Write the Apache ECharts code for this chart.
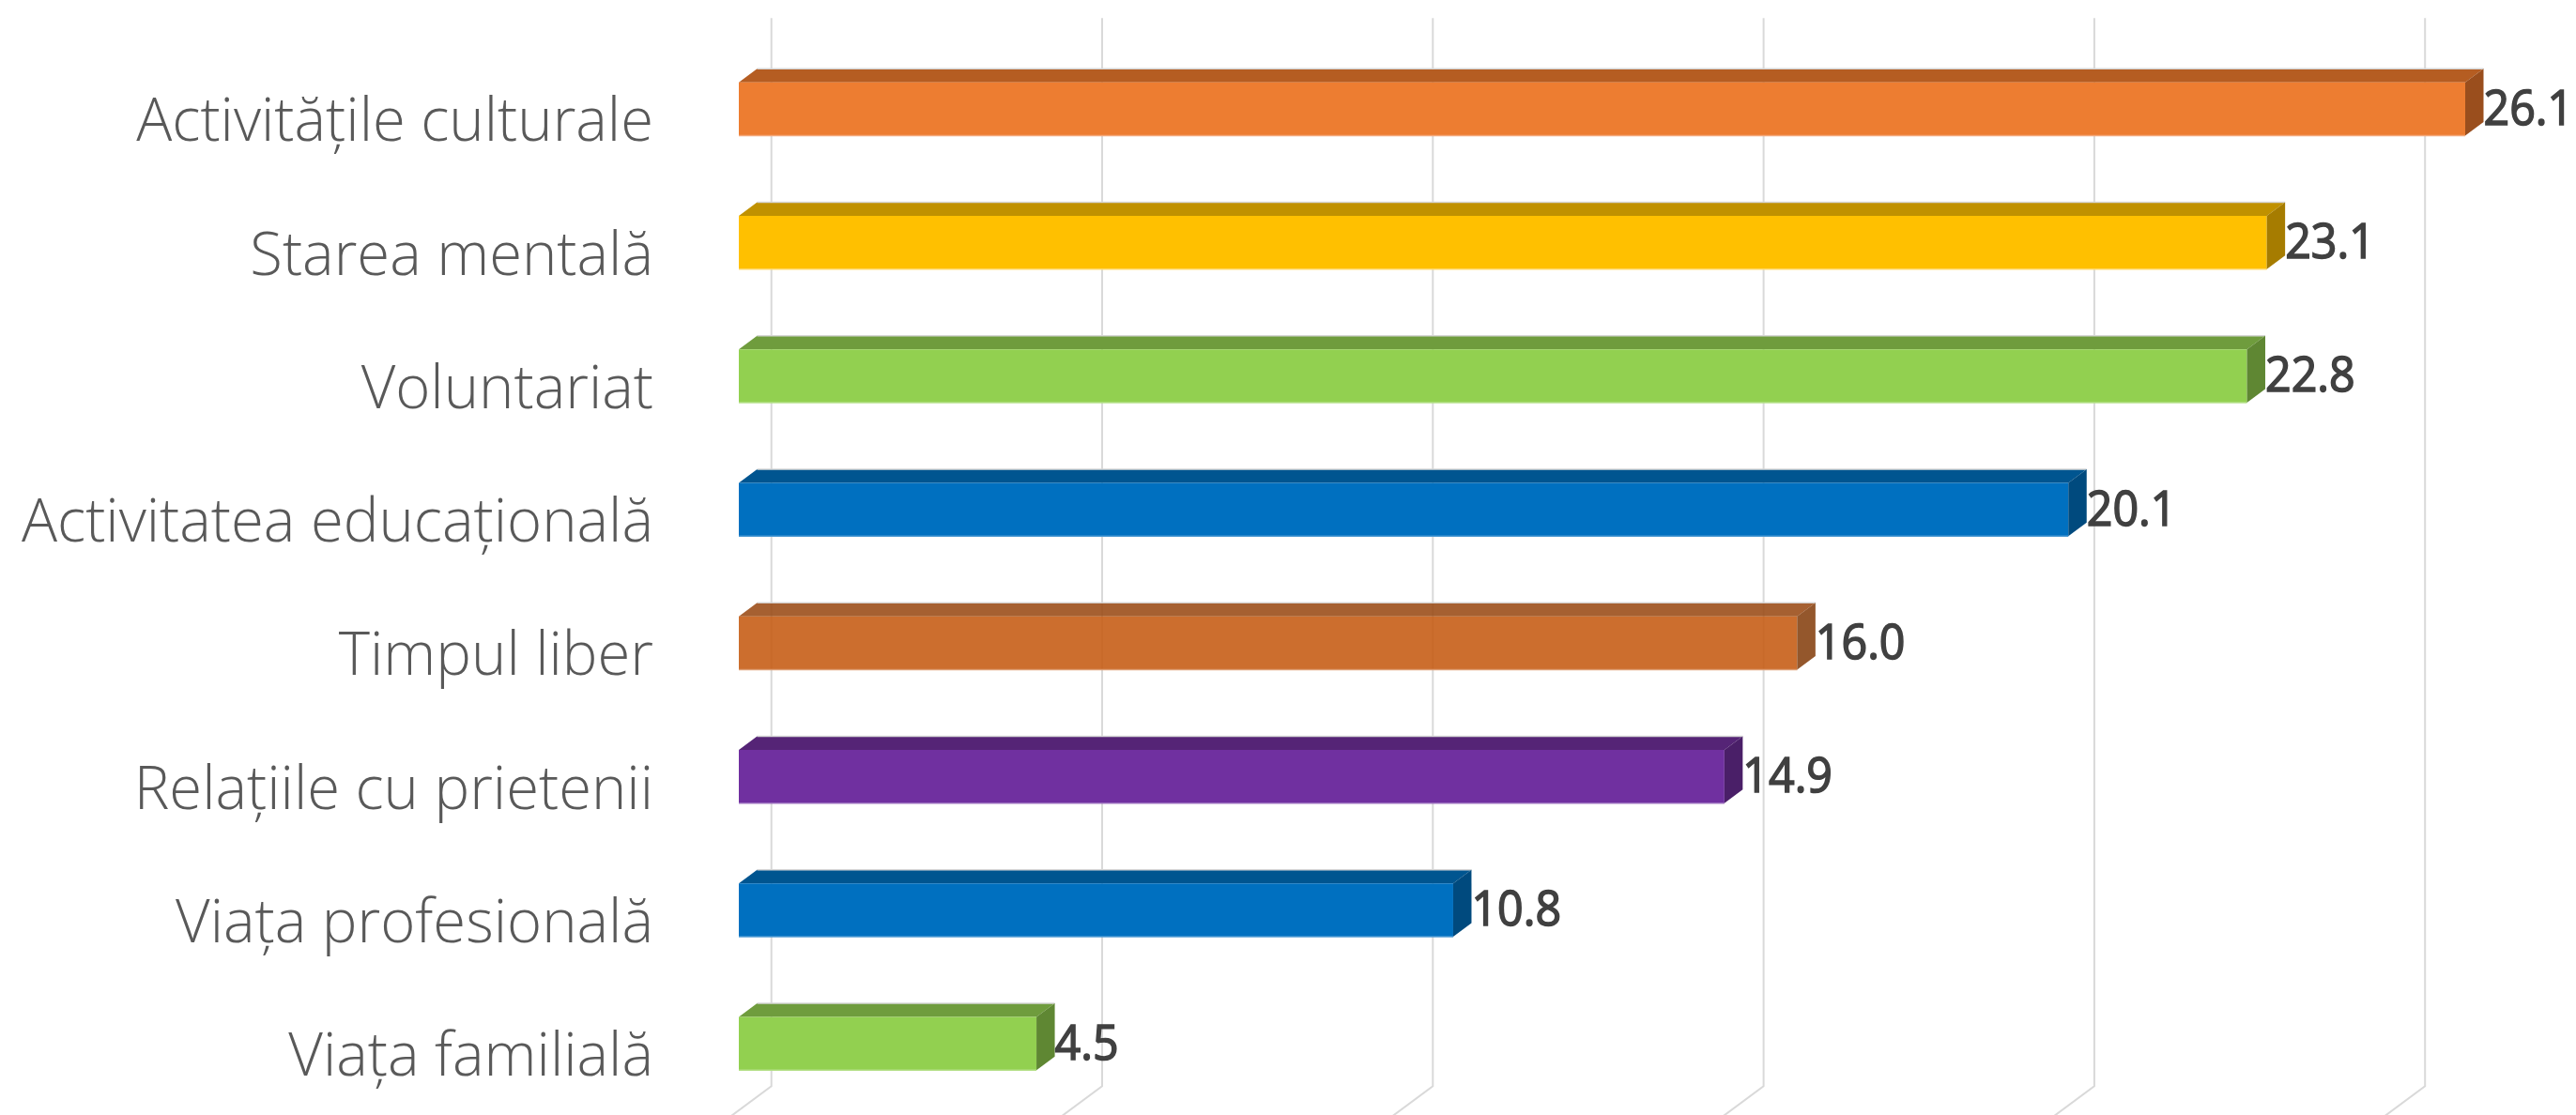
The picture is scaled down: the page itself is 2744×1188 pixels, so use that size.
<!DOCTYPE html>
<html><head><meta charset="utf-8">
<script src="https://cdn.jsdelivr.net/npm/echarts@6/dist/echarts.min.js"></script>
<style>html,body{margin:0;padding:0;background:#fff}#c{width:2744px;height:1188px}</style>
</head><body><div id="c"></div>
<script>
const categories = ['Activitățile culturale','Starea mentală','Voluntariat','Activitatea educațională','Timpul liber','Relațiile cu prietenii','Viața profesională','Viața familială'];
const values = [26.1, 23.1, 22.8, 20.1, 16.0, 14.9, 10.8, 4.5];
const gridValues = [0, 5, 10, 15, 20, 25];

const frontColors = ['#ED7D31','#FFC000','#92D050','#0070C0','#C55A11','#7030A0','#0070C0','#92D050'];
const edgeColors  = ['#F4A77A','#FFD766','#B5E08A','#4C9AD3','#DC9A6E','#9A6CBD','#4C9AD3','#B5E08A'];
const topColors   = ['#B55D22','#C09100','#6F9C3D','#005590','#9A4A14','#552476','#005590','#6F9C3D'];
const sideColors  = ['#9A4E1D','#A67C00','#5F8733','#004A7E','#85400F','#4A1F68','#004A7E','#5F8733'];
const barOpacity  = [1, 1, 1, 1, 0.88, 1, 1, 1];

const DX = 19.5, DY = 14.5;   // bar depth projection
const WX = 34.7, WY = 25.8;   // back wall projection
const LABEL_FONT = '300 64px "Open Sans", "Noto Sans", sans-serif';
const VALUE_FONT = '400 52px "Open Sans", "Noto Sans", sans-serif';

const chart = echarts.init(document.getElementById('c'), null, {renderer: 'canvas'});
chart.setOption({
  animation: false,
  backgroundColor: '#fff',
  grid: {left: 787, top: 45, width: 1761.5, height: 1138},
  xAxis: {type: 'value', min: 0, max: 25, interval: 5, show: false},
  yAxis: {type: 'category', data: categories, inverse: true, show: false},
  series: [
    {
      type: 'custom',
      silent: true,
      z: 1,
      data: gridValues.map(v => [v, 0]),
      encode: {x: 0, y: 1},
      renderItem: function (params, api) {
        const cs = params.coordSys;
        const x = api.coord([api.value(0), 0])[0];
        const top = cs.y - WY, bot = cs.y + cs.height - WY;
        const ext = 80;
        return {
          type: 'polyline',
          shape: {points: [[x + WX, top], [x + WX, bot], [x + WX - ext * WX / WY, bot + ext]]},
          style: {stroke: '#D9D9D9', lineWidth: 2, fill: null}
        };
      }
    },
    {
      type: 'custom',
      z: 2,
      clip: false,
      data: values.map((v, i) => [v, i]),
      encode: {x: 0, y: 1},
      renderItem: function (params, api) {
        const v = api.value(0), i = api.value(1);
        const p0 = api.coord([0, i]), p1 = api.coord([v, i]);
        const band = api.size([0, 1])[1];
        const h = band * 0.4;
        const yc = p0[1];
        const y0 = yc - h / 2, y1 = yc + h / 2;
        const x0 = p0[0], x1 = p1[0];
        const op = barOpacity[i];
        return {
          type: 'group',
          children: [
            {type: 'polygon', shape: {points: [[x0, y0], [x0 + DX, y0 - DY], [x1 + DX, y0 - DY], [x1, y0]]},
             style: {fill: topColors[i], opacity: op}},
            {type: 'line', shape: {x1: x0 + DX, y1: y0 - DY, x2: x1 + DX, y2: y0 - DY},
             style: {stroke: '#D6D6D6', lineWidth: 1.5, opacity: op}},
            {type: 'rect', shape: {x: x0, y: y0, width: x1 - x0, height: h},
             style: {fill: frontColors[i], opacity: op}},
            {type: 'line', shape: {x1: x0, y1: y1, x2: x1, y2: y1},
             style: {stroke: edgeColors[i], lineWidth: 1.5, opacity: op}},
            {type: 'polygon', shape: {points: [[x1, y0], [x1 + DX, y0 - DY], [x1 + DX, y1 - DY], [x1, y1]]},
             style: {fill: sideColors[i], opacity: op}},
            {type: 'text', x: x1 + DX, y: yc + 2, scaleX: 0.93,
             style: {text: v.toFixed(1), font: VALUE_FONT, fill: '#404040', stroke: '#404040', lineWidth: 1.6,
                     align: 'left', verticalAlign: 'middle'}},
            {type: 'text', x: x0 - 91, y: yc + 16, scaleX: 0.99,
             style: {text: categories[i], font: LABEL_FONT, fill: '#595959', align: 'right', verticalAlign: 'middle'}}
          ]
        };
      }
    }
  ]
});
</script>
</body></html>
